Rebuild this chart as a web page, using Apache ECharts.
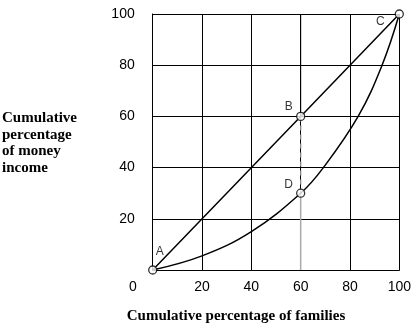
<!DOCTYPE html>
<html>
<head>
<meta charset="utf-8">
<script src="https://cdn.jsdelivr.net/npm/echarts@6/dist/echarts.min.js"></script>
<style>
  html, body { margin: 0; padding: 0; background: #fff; }
  #chart { width: 414px; height: 330px; }
</style>
</head>
<body>
<div id="chart"></div>
<script>
// Tick values for both axes (percent)
const ticks = [0, 20, 40, 60, 80, 100];

// Line of perfect equality: A -> B -> C
const equalityLine = [[0, 0], [60, 60], [100, 100]];

// Lorenz curve (cumulative % of families vs cumulative % of income)
const lorenzX = [0, 20, 40, 60, 69.2, 83.3, 93, 100];
const lorenzY = [0, 5.5, 15, 30, 40, 60, 80, 100];

// Labelled points
const pointNames = ['A', 'B', 'C', 'D'];
const pointX = [0, 60, 100, 60];
const pointY = [0, 60, 100, 30];

// Gap between B and D, and the two remaining parts of the x = 60 grid line
const gapLine = [[60, 60], [60, 30]];
const lowerGuide = [[60, 30], [60, 0]];
const upperGuide = [[60, 100], [60, 60]];

const lorenzData = lorenzX.map((x, i) => [x, lorenzY[i]]);
const labelPos = { A: [7, -18], B: [-12, -10], C: [-19, 8], D: [-12, -9] };
const pointData = pointNames.map((n, i) => ({
  name: n,
  value: [pointX[i], pointY[i]],
  label: { offset: labelPos[n] }
}));

const chart = echarts.init(document.getElementById('chart'), null, { renderer: 'canvas' });

const tickFont = { fontFamily: 'Liberation Sans', fontSize: 14, color: '#000' };

chart.setOption({
  animation: false,
  grid: { left: 152.7, right: 13.3, top: 14, bottom: 60 },
  xAxis: {
    type: 'value', min: 0, max: 100, interval: 20,
    axisLine: { lineStyle: { color: '#000', width: 1 } },
    axisTick: { show: false },
    axisLabel: Object.assign({ margin: 10, formatter: v => (v === 0 ? '' : String(v)) }, tickFont),
    splitLine: {
      show: true,
      // the x = 60 line is drawn separately in three parts
      interval: (idx, val) => idx !== ticks.indexOf(60) && Number(val) !== 60,
      lineStyle: { color: '#000', width: 1 }
    }
  },
  yAxis: {
    type: 'value', min: 0, max: 100, interval: 20,
    axisLine: { lineStyle: { color: '#000', width: 1 } },
    axisTick: { show: false },
    axisLabel: Object.assign({ margin: 18, formatter: v => (v === 0 ? '' : String(v)) }, tickFont),
    splitLine: { show: true, lineStyle: { color: '#000', width: 1 } }
  },
  graphic: [
    { type: 'text', x: 133, y: 287, style: { text: '0', font: '14px "Liberation Sans"', fill: '#000', textAlign: 'center', textVerticalAlign: 'middle' } },
    {
      type: 'text', x: 2, y: 110,
      style: {
        text: 'Cumulative\npercentage\nof money\nincome',
        font: 'bold 15px "Liberation Serif"', lineHeight: 16.5, fill: '#000'
      }
    },
    {
      type: 'text', x: 236, y: 316,
      style: {
        text: 'Cumulative percentage of families', textAlign: 'center', textVerticalAlign: 'middle',
        font: 'bold 15px "Liberation Serif"', fill: '#000'
      }
    }
  ],
  series: [
    {
      type: 'line', data: upperGuide, symbol: 'none', silent: true,
      lineStyle: { color: '#000', width: 1 }
    },
    {
      type: 'line', data: lowerGuide, symbol: 'none', silent: true,
      lineStyle: { color: '#aaa', width: 1.5 }
    },
    {
      type: 'line', data: gapLine, symbol: 'none', silent: true,
      lineStyle: { color: '#888', width: 1.3, type: [5, 4] }
    },
    {
      type: 'line', data: equalityLine, symbol: 'none',
      lineStyle: { color: '#000', width: 1.5 }
    },
    {
      type: 'line', data: lorenzData, symbol: 'none', smooth: 0.4,
      lineStyle: { color: '#000', width: 1.5 }
    },
    {
      type: 'scatter', data: pointData, symbol: 'circle', symbolSize: 8,
      itemStyle: { color: '#fff', borderColor: '#000', borderWidth: 1.3 },
      label: {
        show: true, formatter: p => p.name, position: 'inside',
        fontFamily: 'Liberation Sans', fontSize: 12, color: '#000'
      },
      z: 10
    }
  ]
});
</script>
</body>
</html>
